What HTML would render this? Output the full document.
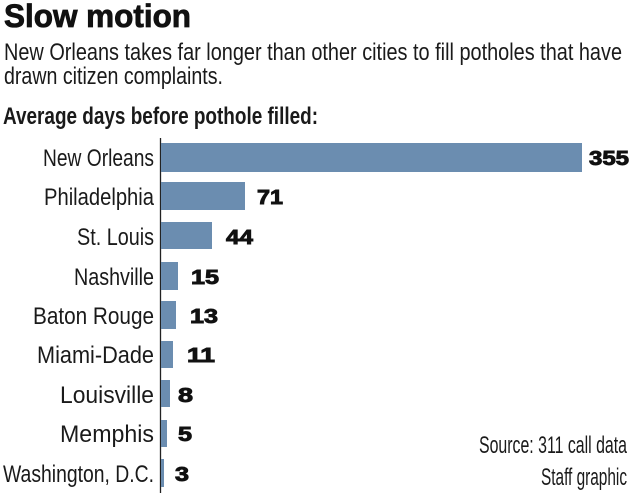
<!DOCTYPE html>
<html><head><meta charset="utf-8"><style>
html,body{margin:0;padding:0;background:#fff;}
svg{display:block;}
.lab{font-family:"Liberation Sans Narrow","Liberation Sans",sans-serif;font-size:24px;fill:#1a1a1a;}
.val{font-family:"Liberation Sans",sans-serif;font-weight:bold;font-size:20px;fill:#111;stroke:#111;stroke-width:0.9;}
</style></head><body>
<svg width="633" height="495" viewBox="0 0 633 495" xmlns="http://www.w3.org/2000/svg">
<text x="4" y="27" font-family="Liberation Sans,sans-serif" font-weight="bold" font-size="32" fill="#111" stroke="#111" stroke-width="0.8" textLength="187" lengthAdjust="spacingAndGlyphs">Slow motion</text>
<text x="4" y="60" class="lab" font-size="23" textLength="618" lengthAdjust="spacingAndGlyphs">New Orleans takes far longer than other cities to fill potholes that have</text>
<text x="4" y="84" class="lab" font-size="23" textLength="219" lengthAdjust="spacingAndGlyphs">drawn citizen complaints.</text>
<text x="3" y="124" class="lab" font-weight="bold" font-size="23" fill="#111" textLength="315" lengthAdjust="spacingAndGlyphs">Average days before pothole filled:</text>
<line x1="160.5" y1="138" x2="160.5" y2="493" stroke="#222" stroke-width="1.3"/>
<g fill="#6b8db0">
<rect x="161" y="143" width="421" height="29"/>
<rect x="161" y="182" width="84" height="28"/>
<rect x="161" y="222" width="51" height="27"/>
<rect x="161" y="262" width="17" height="28"/>
<rect x="161" y="301" width="15" height="28"/>
<rect x="161" y="341" width="12" height="27"/>
<rect x="161" y="380" width="9" height="27"/>
<rect x="161" y="420" width="6" height="27"/>
<rect x="161" y="459" width="3" height="28"/>
</g>
<g class="lab" text-anchor="end">
<text x="154" y="166" textLength="111" lengthAdjust="spacingAndGlyphs">New Orleans</text>
<text x="154" y="205" textLength="110" lengthAdjust="spacingAndGlyphs">Philadelphia</text>
<text x="154" y="245" textLength="77" lengthAdjust="spacingAndGlyphs">St. Louis</text>
<text x="154" y="285" textLength="80" lengthAdjust="spacingAndGlyphs">Nashville</text>
<text x="154" y="324" textLength="121" lengthAdjust="spacingAndGlyphs">Baton Rouge</text>
<text x="154" y="363" textLength="117" lengthAdjust="spacingAndGlyphs">Miami-Dade</text>
<text x="154" y="403" textLength="94" lengthAdjust="spacingAndGlyphs">Louisville</text>
<text x="154" y="442" textLength="94" lengthAdjust="spacingAndGlyphs">Memphis</text>
<text x="154" y="482" textLength="151" lengthAdjust="spacingAndGlyphs">Washington, D.C.</text>
</g>
<g class="val">
<text x="589" y="165" textLength="40" lengthAdjust="spacingAndGlyphs">355</text>
<text x="257" y="204" textLength="26" lengthAdjust="spacingAndGlyphs">71</text>
<text x="226" y="244" textLength="27" lengthAdjust="spacingAndGlyphs">44</text>
<text x="191" y="284" textLength="28" lengthAdjust="spacingAndGlyphs">15</text>
<text x="190" y="323" textLength="28" lengthAdjust="spacingAndGlyphs">13</text>
<text x="187" y="362" textLength="28" lengthAdjust="spacingAndGlyphs">11</text>
<text x="178" y="402" textLength="15" lengthAdjust="spacingAndGlyphs">8</text>
<text x="178" y="441" textLength="14" lengthAdjust="spacingAndGlyphs">5</text>
<text x="175" y="481" textLength="14" lengthAdjust="spacingAndGlyphs">3</text>
</g>
<text x="627" y="453" class="lab" font-size="18" text-anchor="end" textLength="148" lengthAdjust="spacingAndGlyphs">Source: 311 call data</text>
<text x="627" y="485" class="lab" font-size="18" text-anchor="end" textLength="86" lengthAdjust="spacingAndGlyphs">Staff graphic</text>
</svg>
</body></html>
